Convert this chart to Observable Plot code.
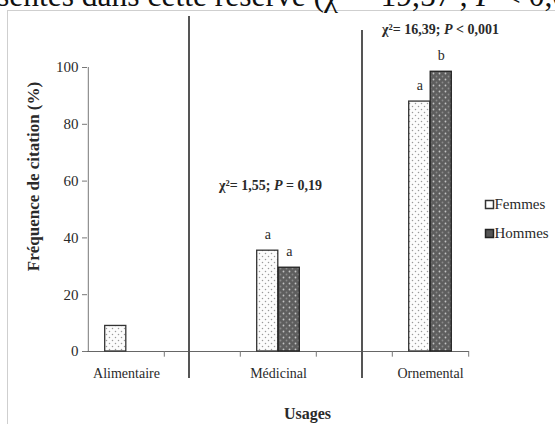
<!DOCTYPE html>
<html>
<head>
<meta charset="utf-8">
<script src="https://cdn.jsdelivr.net/npm/d3@7"></script>
<script src="https://cdn.jsdelivr.net/npm/@observablehq/plot@0.6"></script>
<style>
  body { margin: 0; background: #fff; }
  #wrap { position: relative; width: 555px; height: 424px; overflow: hidden; }
  #frame { position: absolute; left: 7px; top: 10px; width: 600px; height: 500px;
           border-left: 1.5px solid #cfcfcf; border-top: 1.5px solid #cfcfcf; }
  #cap { position: absolute; left: -3px; top: -20px; font-family: "Liberation Serif", serif;
         font-size: 31.5px; line-height: 31.5px; white-space: nowrap; color: #111; }
  #cap sup { font-size: 18px; line-height: 0; }
  #chart { position: absolute; left: 0; top: 0; }
</style>
</head>
<body>
<div id="wrap">
  <div id="frame"></div>
  <div id="cap">sentés dans cette réserve (χ<sup>2</sup> = 19,57 ; <i>P</i> &lt; 0,001)</div>
  <div id="chart"></div>
</div>
<script>
// ---- data ----
const usages = ["Alimentaire", "_gap1", "Médicinal", "_gap2", "Ornemental"];
const categories = ["Alimentaire", "Médicinal", "Ornemental"];
const femmes = [9, 35.5, 88];
const hommes = [0, 29.5, 98.5];
const lettersFemmes = ["", "a", "a"];
const lettersHommes = ["", "a", "b"];
const yTicks = [0, 20, 40, 60, 80, 100];
const statPrefix = ["χ²= 1,55; ", "χ²= 16,39; "];
const statItalic = ["P", "P"];
const statSuffix = [" = 0,19", " < 0,001"];
const statUsage = ["Médicinal", "Ornemental"];
const legendLabels = ["Femmes", "Hommes"];

const rowsF = categories.map((c, i) => ({usage: c, value: femmes[i], letter: lettersFemmes[i]}));
const rowsH = categories.map((c, i) => ({usage: c, value: hommes[i], letter: lettersHommes[i]}));
const stats = statUsage.map((u, i) => ({usage: u, text: statPrefix[i] + statItalic[i] + statSuffix[i]}));

// ---- layout ----
const W = 555, H = 424, ML = 87, MR = 86, MT = 67, MB = 73;
const bw = (W - ML - MR) / usages.length;
const barW = 21.5;
const ink = "#2a2a2a";

const plot = Plot.plot({
  width: W, height: H,
  marginLeft: ML, marginRight: MR, marginTop: MT, marginBottom: MB,
  style: {fontFamily: "'Liberation Serif', serif", fontSize: "15px", color: ink, background: "transparent", overflow: "visible"},
  x: {type: "band", domain: usages, padding: 0},
  y: {domain: [0, 100]},
  marks: [
    // axes
    Plot.axisY({ticks: yTicks, tickSize: 5, tickPadding: 4, label: null, fontSize: 15, stroke: "#777"}),
    Plot.axisX({tickSize: 0, tickPadding: 17, label: null, fontSize: 14,
                tickFormat: d => categories.includes(d) ? d : ""}),
    Plot.ruleX([usages[0]], {dx: -bw / 2, y1: 0, y2: 100, stroke: "#777"}),
    Plot.ruleY([0], {stroke: "#666", strokeWidth: 1.2}),
    Plot.ruleX(usages.slice(1), {dx: -bw / 2, y1: 0, y2: -2, stroke: "#777"}),
    Plot.ruleX([usages[usages.length - 1]], {dx: bw / 2, y1: 0, y2: -2, stroke: "#777"}),
    // separators
    Plot.ruleX([usages[1]], {dx: -13.5, y1: -9.5, y2: 118, stroke: "#555", strokeWidth: 2}),
    Plot.ruleX([usages[3]], {dx: 7.5, y1: -9.5, y2: 113, stroke: "#555", strokeWidth: 2}),
    // bars
    Plot.barY(rowsF.filter(d => d.value > 0), {x: "usage", y: "value", fill: "url(#patF)", stroke: "#333", strokeWidth: 1.3,
      insetLeft: bw / 2 - barW, insetRight: bw / 2}),
    Plot.barY(rowsH.filter(d => d.value > 0), {x: "usage", y: "value", fill: "url(#patH)", stroke: "#222", strokeWidth: 1.3,
      insetLeft: bw / 2, insetRight: bw / 2 - barW}),
    // letters
    Plot.text(rowsF.filter(d => d.letter), {x: "usage", y: "value", text: "letter", dx: -barW / 2, dy: -12,
      lineAnchor: "bottom", fontSize: 14, fill: ink}),
    Plot.text(rowsH.filter(d => d.letter), {x: "usage", y: "value", text: "letter", dx: barW / 2, dy: -12,
      lineAnchor: "bottom", fontSize: 14, fill: ink}),
    // statistics
    Plot.text([stats[0]], {x: "usage", y: 58.5, text: "text", dx: -8, fontSize: 14, fontWeight: "bold", fill: ink}),
    Plot.text([stats[1]], {x: "usage", y: 113.4, text: "text", dx: 10, fontSize: 14, fontWeight: "bold", fill: ink}),
    // axis titles
    Plot.text(["Fréquence de citation (%)"], {frameAnchor: "left", dx: -54, dy: -33, rotate: -90,
      textAnchor: "middle", lineAnchor: "middle", fontSize: 17, fontWeight: "bold", fill: ink}),
    Plot.text(["Usages"], {frameAnchor: "bottom", dx: 29, dy: 62, lineAnchor: "middle", fontSize: 16, fontWeight: "bold", fill: ink}),
    // legend
    Plot.dot([legendLabels[0]], {frameAnchor: "right", dx: 20, dy: -5, symbol: "square", r: 4.5, fill: "#fff", stroke: "#333", strokeWidth: 1.5}),
    Plot.dot([legendLabels[1]], {frameAnchor: "right", dx: 20, dy: 24, symbol: "square", r: 4.5, fill: "#555", stroke: "#222", strokeWidth: 1.5}),
    Plot.text([legendLabels[0]], {frameAnchor: "right", dx: 25, dy: -5, textAnchor: "start", lineAnchor: "middle", fontSize: 15, fill: ink}),
    Plot.text([legendLabels[1]], {frameAnchor: "right", dx: 25, dy: 24, textAnchor: "start", lineAnchor: "middle", fontSize: 15, fill: ink})
  ]
});

// patterns
const defs = d3.select(plot).insert("defs", ":first-child");
const pF = defs.append("pattern").attr("id", "patF").attr("patternUnits", "userSpaceOnUse").attr("width", 6).attr("height", 6);
pF.append("rect").attr("width", 6).attr("height", 6).attr("fill", "#fcfcfc");
pF.append("circle").attr("cx", 1.5).attr("cy", 1.5).attr("r", 0.75).attr("fill", "#9a9a9a");
pF.append("circle").attr("cx", 4.5).attr("cy", 4.5).attr("r", 0.75).attr("fill", "#9a9a9a");
const pH = defs.append("pattern").attr("id", "patH").attr("patternUnits", "userSpaceOnUse").attr("width", 6).attr("height", 6);
pH.append("rect").attr("width", 6).attr("height", 6).attr("fill", "#5e5e5e");
pH.append("circle").attr("cx", 1.5).attr("cy", 1.5).attr("r", 0.9).attr("fill", "#c4c4c4");
pH.append("circle").attr("cx", 4.5).attr("cy", 4.5).attr("r", 0.9).attr("fill", "#8a8a8a");

// italic P in statistics
d3.select(plot).selectAll("text").each(function () {
  const i = stats.findIndex(s => s.text === this.textContent);
  if (i < 0) return;
  const t = d3.select(this);
  t.text(null);
  t.append("tspan").text(statPrefix[i]);
  t.append("tspan").attr("font-style", "italic").text(statItalic[i]);
  t.append("tspan").text(statSuffix[i]);
});

document.getElementById("chart").appendChild(plot);
</script>
</body>
</html>
